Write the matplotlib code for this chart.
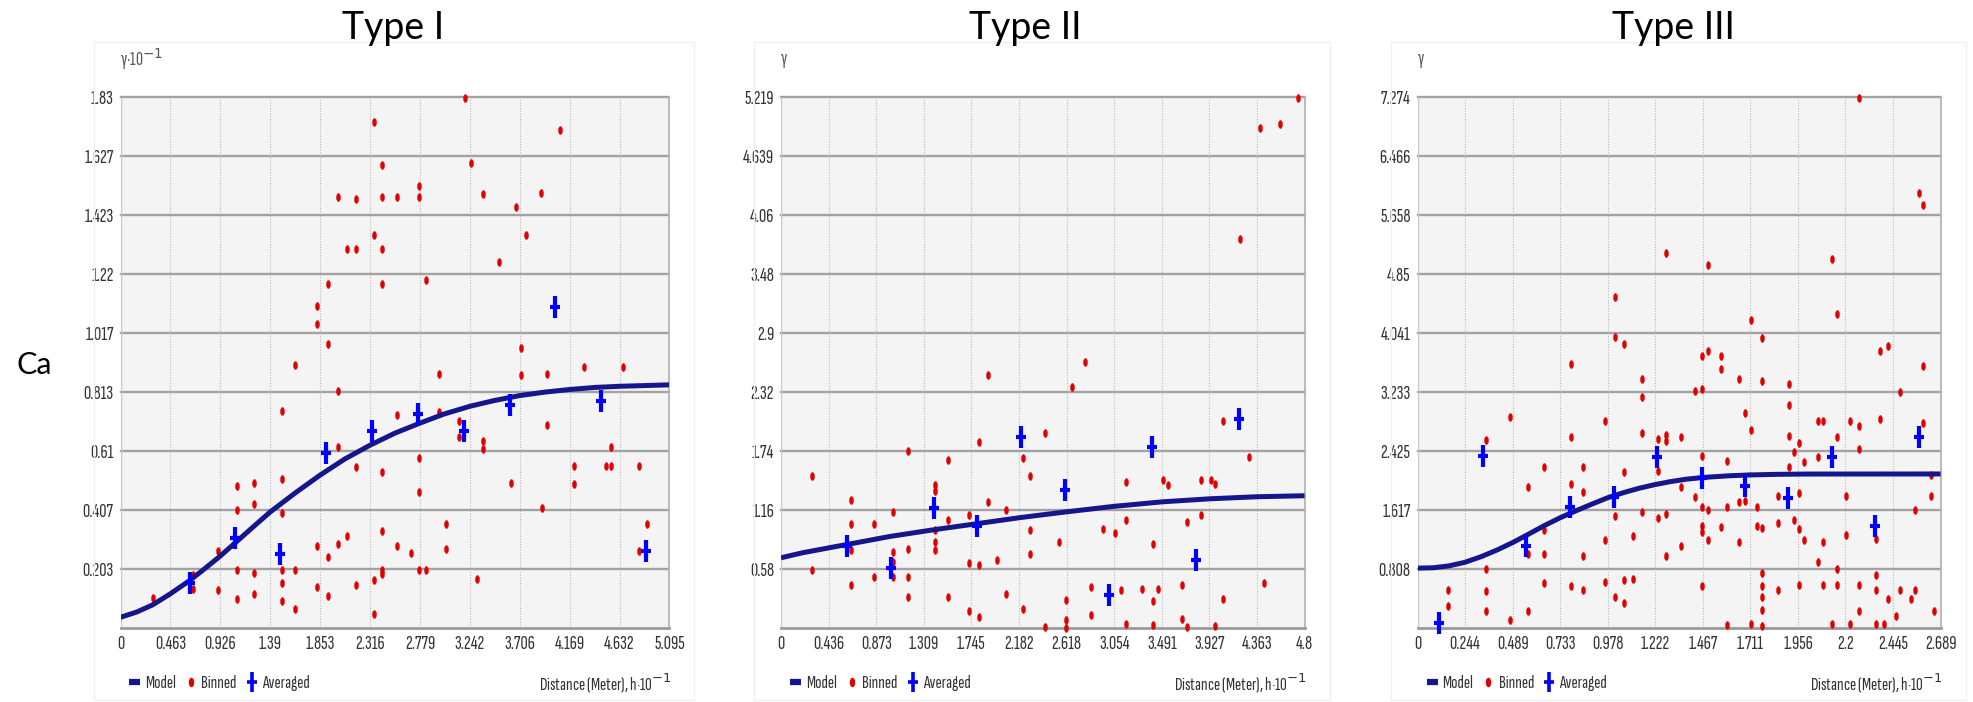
import numpy as np
import matplotlib
matplotlib.use("Agg")
import matplotlib.pyplot as plt
from matplotlib.path import Path
from matplotlib.lines import Line2D
from matplotlib.transforms import Affine2D

# ---------------- data ----------------
# Type I
p1_xticks = ["0", "0.463", "0.926", "1.39", "1.853", "2.316", "2.779", "3.242", "3.706", "4.169", "4.632", "5.095"]
p1_yticks = ["", "0.203", "0.407", "0.61", "0.813", "1.017", "1.22", "1.423", "1.627", "1.83"]
p1_bin_x = [3.195, 2.349, 4.084, 2.424, 3.252, 2.015, 2.187, 2.424, 2.567, 2.772, 2.772, 3.363, 3.905, 3.668,
            2.349, 2.105, 2.187, 2.424, 3.765, 3.514, 1.922, 2.424, 2.833, 1.825, 1.825, 1.922, 3.715, 1.617,
            4.299, 4.661, 2.958, 3.715, 3.955, 2.015, 1.502, 2.567, 2.958, 3.141, 3.141, 3.955, 3.363, 3.363,
            2.015, 2.187, 2.424, 2.772, 2.772, 4.553, 4.214, 4.214, 4.51, 4.553, 4.815, 3.621, 3.908,
            1.083, 1.237, 1.237, 1.083, 1.502, 1.502, 3.022, 3.022, 4.890, 4.815, 2.424, 2.105, 2.015, 1.825,
            1.922, 2.567, 2.700, 0.904, 2.772, 2.833, 2.424, 2.424, 1.083, 1.237, 1.502, 1.617, 0.674, 0.674,
            1.502, 2.349, 2.187, 1.825, 3.310, 0.904, 1.237, 1.922, 0.298, 1.083, 1.502, 1.617, 2.349]
p1_bin_y = [1.828, 1.744, 1.715, 1.597, 1.604, 1.486, 1.479, 1.486, 1.486, 1.522, 1.486, 1.494, 1.500, 1.452,
            1.354, 1.305, 1.305, 1.305, 1.354, 1.263, 1.186, 1.186, 1.201, 1.111, 1.048, 0.978, 0.965, 0.908,
            0.898, 0.898, 0.875, 0.872, 0.875, 0.818, 0.747, 0.734, 0.744, 0.715, 0.657, 0.698, 0.646, 0.617,
            0.623, 0.554, 0.539, 0.586, 0.468, 0.623, 0.560, 0.497, 0.560, 0.560, 0.560, 0.500, 0.413,
            0.490, 0.498, 0.427, 0.405, 0.512, 0.396, 0.359, 0.273, 0.359, 0.267, 0.336, 0.316, 0.290, 0.281,
            0.244, 0.281, 0.259, 0.267, 0.199, 0.199, 0.199, 0.187, 0.199, 0.189, 0.199, 0.199, 0.181, 0.135,
            0.155, 0.164, 0.149, 0.141, 0.170, 0.130, 0.118, 0.112, 0.103, 0.101, 0.093, 0.067, 0.049]
p1_avg_x = [0.642, 1.065, 1.484, 1.911, 2.334, 2.764, 3.187, 3.613, 4.037, 4.459, 4.878]
p1_avg_y = [0.156, 0.311, 0.254, 0.602, 0.680, 0.738, 0.680, 0.770, 1.105, 0.784, 0.267]
p1_model_x = [0, 0.15, 0.30, 0.463, 0.636, 0.76, 0.926, 1.054, 1.23, 1.39, 1.62, 1.853, 2.08, 2.316,
              2.55, 2.779, 3.0, 3.242, 3.47, 3.706, 3.94, 4.169, 4.4, 4.632, 5.095]
p1_model_y = [0.037, 0.055, 0.080, 0.118, 0.162, 0.198, 0.248, 0.290, 0.348, 0.400, 0.465, 0.527, 0.582,
              0.630, 0.672, 0.706, 0.737, 0.764, 0.784, 0.801, 0.813, 0.822, 0.829, 0.833, 0.838]

# Type II
p2_xticks = ["0", "0.436", "0.873", "1.309", "1.745", "2.182", "2.618", "3.054", "3.491", "3.927", "4.363", "4.8"]
p2_yticks = ["", "0.58", "1.16", "1.74", "2.32", "2.9", "3.48", "4.06", "4.639", "5.219"]
p2_bin_x = [4.744, 4.390, 4.572, 4.204, 2.785, 1.899, 2.670, 0.280, 0.280, 0.638, 0.638, 0.638, 0.638,
            0.851, 0.851, 1.023, 1.023, 1.023, 1.023, 1.163, 1.163, 1.163, 1.163, 1.415, 1.415, 1.415, 1.415,
            1.415, 1.528, 1.528, 1.528, 1.720, 1.720, 1.720, 1.815, 1.815, 1.815, 1.899, 1.983, 2.060, 2.060,
            2.214, 2.214, 2.284, 2.284, 2.284, 2.424, 2.424, 2.547, 2.617, 2.617, 2.617, 2.844, 2.844, 2.956,
            3.061, 3.114, 3.166, 3.166, 3.166, 3.310, 3.408, 3.408, 3.408, 3.455, 3.504, 3.546, 3.679, 3.679,
            3.725, 3.725, 3.847, 3.847, 3.938, 3.977, 3.977, 4.050, 4.050, 4.289, 4.432]
p2_bin_y = [5.213, 4.912, 4.951, 3.822, 2.611, 2.490, 2.366, 1.492, 0.566, 1.260, 1.024, 0.762, 0.425,
            1.024, 0.501, 1.139, 0.746, 0.648, 0.501, 1.738, 0.779, 0.501, 0.304, 1.401, 1.351, 0.959, 0.844,
            0.762, 1.652, 1.057, 0.304, 1.106, 0.641, 0.164, 1.832, 0.622, 0.108, 1.237, 0.664, 1.155, 0.337,
            1.672, 0.190, 1.492, 0.959, 0.723, 1.914, 0.010, 0.844, 0.272, 0.075, 0.0, 0.402, 0.124, 0.975,
            0.936, 0.370, 1.433, 1.057, 0.043, 0.386, 0.828, 0.265, 0.033, 0.386, 1.459, 1.401, 0.425, 0.092,
            1.041, 0.010, 1.459, 1.106, 1.459, 1.417, 0.016, 2.032, 0.288, 1.679, 0.442]
p2_avg_x = [0.603, 1.005, 1.401, 1.801, 2.200, 2.607, 3.003, 3.402, 3.801, 4.200]
p2_avg_y = [0.802, 0.586, 1.178, 1.005, 1.875, 1.358, 0.327, 1.777, 0.664, 2.055]
p2_model_x = [0, 0.2, 0.6, 1.0, 1.396, 1.794, 2.191, 2.604, 3.046, 3.495, 3.933, 4.363, 4.8]
p2_model_y = [0.69, 0.74, 0.82, 0.90, 0.965, 1.025, 1.085, 1.14, 1.195, 1.24, 1.27, 1.29, 1.30]

# Type III
p3_xticks = ["0", "0.244", "0.489", "0.733", "0.978", "1.222", "1.467", "1.711", "1.956", "2.2", "2.445", "2.689"]
p3_yticks = ["", "0.808", "1.617", "2.425", "3.233", "4.041", "4.85", "5.658", "6.466", "7.274"]
p3_bin_x = [2.268, 2.579, 2.597, 1.277, 1.494, 2.131, 1.013, 2.154, 1.715, 1.013, 1.063, 1.773, 2.378,
            2.418, 0.790, 1.462, 1.494, 1.560, 1.560, 2.597,
            1.153, 1.153, 1.153, 1.153, 1.426, 1.462, 1.654, 1.773, 1.909, 1.909, 1.909, 1.909, 2.478, 2.597,
            0.477, 0.353, 0.353, 0.353, 0.353, 0.158, 0.158, 0.477, 0.569, 0.569, 0.569, 0.652, 0.652, 0.652,
            0.652, 0.790, 0.790, 0.790, 0.852, 0.852, 0.852, 0.852, 0.962, 0.962, 0.962, 1.013, 1.013, 1.063,
            1.063, 1.063, 1.109, 1.109, 1.237, 1.237, 1.237, 1.277, 1.277, 1.277, 1.277, 1.355, 1.355, 1.355,
            1.426, 1.462, 1.462, 1.462, 1.462, 1.462, 1.494, 1.494, 1.560, 1.592, 1.592, 1.592, 1.654, 1.654,
            1.686, 1.686, 1.715, 1.715, 1.743, 1.743, 1.773, 1.773, 1.773, 1.773, 1.773, 1.773, 1.855, 1.855,
            1.855, 1.935, 1.935, 1.961, 1.961, 1.961, 1.961, 1.985, 1.985, 2.059, 2.083, 2.059, 2.059, 2.083,
            2.083, 2.154, 2.154, 2.154, 2.131, 2.202, 2.202, 2.224, 2.224, 2.268, 2.268, 2.268, 2.268, 2.356,
            2.356, 2.356, 2.356, 2.378, 2.398, 2.418, 2.458, 2.478, 2.538, 2.558, 2.558, 2.638, 2.638, 2.655]
p3_bin_y = [7.264, 5.964, 5.796, 5.134, 4.966, 5.048, 4.528, 4.300, 4.218, 3.981, 3.890, 3.972, 3.798,
            3.858, 3.616, 3.725, 3.798, 3.725, 3.548, 3.593,
            3.411, 3.169, 2.668, 1.587, 3.251, 3.274, 3.411, 3.388, 3.342, 3.060, 2.636, 2.202, 3.228, 2.804,
            2.886, 2.576, 0.812, 0.506, 0.228, 0.515, 0.296, 0.114, 1.929, 0.228, 1.017, 2.202, 1.345, 1.008,
            0.620, 2.613, 1.974, 0.570, 2.202, 1.860, 0.980, 0.515, 2.841, 1.208, 0.629, 1.541, 0.424, 2.134,
            0.661, 0.342, 1.254, 0.675, 2.590, 2.157, 1.505, 2.649, 2.558, 1.555, 0.980, 2.613, 1.929, 1.117,
            1.792, 2.362, 1.655, 1.391, 1.313, 0.570, 1.610, 1.199, 1.382, 2.285, 1.655, 0.036, 1.724, 1.176,
            2.941, 1.737, 2.713, 0.059, 1.655, 1.404, 1.373, 0.752, 0.570, 0.424, 0.251, 0.023, 1.815, 1.436,
            0.515, 2.408, 1.473, 2.531, 1.847, 1.350, 0.584, 2.280, 1.208, 2.832, 2.832, 2.339, 0.903, 1.176,
            0.584, 2.613, 0.812, 0.584, 0.059, 1.815, 1.268, 2.832, 0.059, 2.772, 2.453, 0.584, 0.228, 1.222,
            0.720, 0.515, 0.059, 2.864, 0.059, 0.401, 0.160, 0.524, 0.401, 1.610, 0.515, 2.102, 1.815, 0.228]
p3_avg_x = [0.112, 0.337, 0.559, 0.784, 1.009, 1.229, 1.460, 1.682, 1.905, 2.129, 2.352, 2.577]
p3_avg_y = [0.068, 2.362, 1.117, 1.664, 1.801, 2.339, 2.057, 1.952, 1.783, 2.339, 1.391, 2.622]
p3_model_x = [0, 0.08, 0.16, 0.244, 0.33, 0.41, 0.489, 0.56, 0.65, 0.733, 0.81, 0.89, 0.978, 1.06, 1.14,
              1.222, 1.30, 1.38, 1.467, 1.6, 1.711, 1.85, 2.0, 2.689]
p3_model_y = [0.82, 0.825, 0.85, 0.90, 0.98, 1.07, 1.17, 1.27, 1.40, 1.51, 1.60, 1.69, 1.785, 1.855, 1.915,
              1.965, 2.005, 2.038, 2.062, 2.085, 2.097, 2.105, 2.109, 2.11]

titles = ["Type I", "Type II", "Type III"]
gamma_labels = [r"γ·10$^{-1}$", "γ", "γ"]
row_label = "Ca"

# ---------------- styling ----------------
W, H = 1973, 702
narrow = ["Sofia Sans Extra Condensed", "Roboto Condensed", "DejaVu Sans"]
title_font = ["Lato", "DejaVu Sans"]
navy = "#16168c"
red = "#e00000"
blue = "#0000ff"
label_col = "#333333"

# vertical ellipse marker for binned points
ellipse = Path.unit_circle().transformed(Affine2D().scale(0.5, 1.0))
# tall plus marker for averaged points
plus = Path([(-0.45, 0), (0.45, 0), (0, -1), (0, 1)],
            [Path.MOVETO, Path.LINETO, Path.MOVETO, Path.LINETO])

fig = plt.figure(figsize=(W / 100, H / 100), dpi=100)

# axes boxes in pixels: left, right
boxes = [(120.5, 669.4), (781.0, 1304.6), (1417.5, 1940.6)]
top_px, bot_px = 97, 628

panels = [
    (p1_xticks, p1_yticks, p1_bin_x, p1_bin_y, p1_avg_x, p1_avg_y, p1_model_x, p1_model_y),
    (p2_xticks, p2_yticks, p2_bin_x, p2_bin_y, p2_avg_x, p2_avg_y, p2_model_x, p2_model_y),
    (p3_xticks, p3_yticks, p3_bin_x, p3_bin_y, p3_avg_x, p3_avg_y, p3_model_x, p3_model_y),
]
title_x = [393, 1025, 1673]

for i, (xt, yt, bx, by, axx, axy, mx, my) in enumerate(panels):
    left, right = boxes[i]
    ax = fig.add_axes([left / W, 1 - bot_px / H, (right - left) / W, (bot_px - top_px) / H])
    ax.set_facecolor("#f4f4f4")

    xpos = [float(s) for s in xt]
    ypos = [0.0] + [float(s) for s in yt[1:]]
    ax.set_xlim(0, xpos[-1])
    ax.set_ylim(0, ypos[-1])
    ax.set_xticks(xpos)
    ax.set_xticklabels(xt)
    ax.set_yticks(ypos)
    ax.set_yticklabels(yt)
    ax.tick_params(length=0, labelsize=14.5, labelcolor=label_col, pad=5)
    for lab in ax.get_xticklabels() + ax.get_yticklabels():
        lab.set_family(narrow)

    # grid: solid horizontal, dotted vertical
    for y in ypos[1:]:
        ax.axhline(y, color="#a2a2a2", lw=1.7, zorder=1, clip_on=False)
    for x in xpos[1:-1]:
        ax.axvline(x, color="#b8b8b8", lw=0.8, ls=(0, (1, 1.5)), zorder=1)

    for side in ["top", "left"]:
        ax.spines[side].set_visible(False)
    ax.spines["bottom"].set_color("#9a9a9a")
    ax.spines["bottom"].set_linewidth(2)
    ax.spines["right"].set_color("#b5b5b5")
    ax.spines["right"].set_linewidth(1.3)
    ax.axvline(0, color="#c8c8c8", lw=1.0, zorder=1)

    # binned, model, averaged
    ax.plot(bx, by, ls="none", marker=ellipse, ms=5.8, mfc=red, mec=red, mew=0.3,
            zorder=3, clip_on=False)
    ax.plot(mx, my, color=navy, lw=3.6, solid_capstyle="butt", solid_joinstyle="round", zorder=4)
    ax.plot(axx, axy, ls="none", marker=plus, ms=16, mew=3.0, mec=blue, mfc="none",
            zorder=5, clip_on=False)

    # gamma label above the axis
    ax.text(0.0, 1.0 + 38 / (bot_px - top_px), gamma_labels[i], transform=ax.transAxes,
            ha="left", va="center", fontsize=14, color="#555555", family=narrow)

    # legend under the axis
    handles = [
        Line2D([], [], color=navy, lw=4.5, solid_capstyle="butt"),
        Line2D([], [], ls="none", marker=ellipse, ms=5.8, mfc=red, mec=red),
        Line2D([], [], ls="none", marker=plus, ms=15, mew=2.6, mec=blue, mfc="none"),
    ]
    leg = ax.legend(handles, ["Model", "Binned", "Averaged"], loc="center left",
                    bbox_to_anchor=(-0.015, -0.104), ncol=3, frameon=False,
                    handlelength=0.6, handletextpad=0.25, columnspacing=0.5,
                    prop={"family": narrow, "size": 13.5})
    for t in leg.get_texts():
        t.set_color(label_col)

    ax.text(1.005, -0.104, r"Distance (Meter), h·10$^{-1}$", transform=ax.transAxes,
            ha="right", va="center", fontsize=13.5, color=label_col, family=narrow)

    # title
    fig.text(title_x[i] / W, 1 - 28 / H, titles[i], ha="center", va="center",
             fontsize=27, family=title_font, color="black")

    # faint panel frame
    fr = plt.Rectangle(((left - 27) / W, 2 / H), (right - left + 52) / W, (H - 44) / H,
                       transform=fig.transFigure, fill=False, ec="#f0f0f0", lw=1)
    fig.add_artist(fr)

fig.text(34 / W, 1 - 365 / H, row_label, ha="center", va="center", fontsize=22,
         family=title_font, color="black")

fig.savefig("out.png", dpi=100)
